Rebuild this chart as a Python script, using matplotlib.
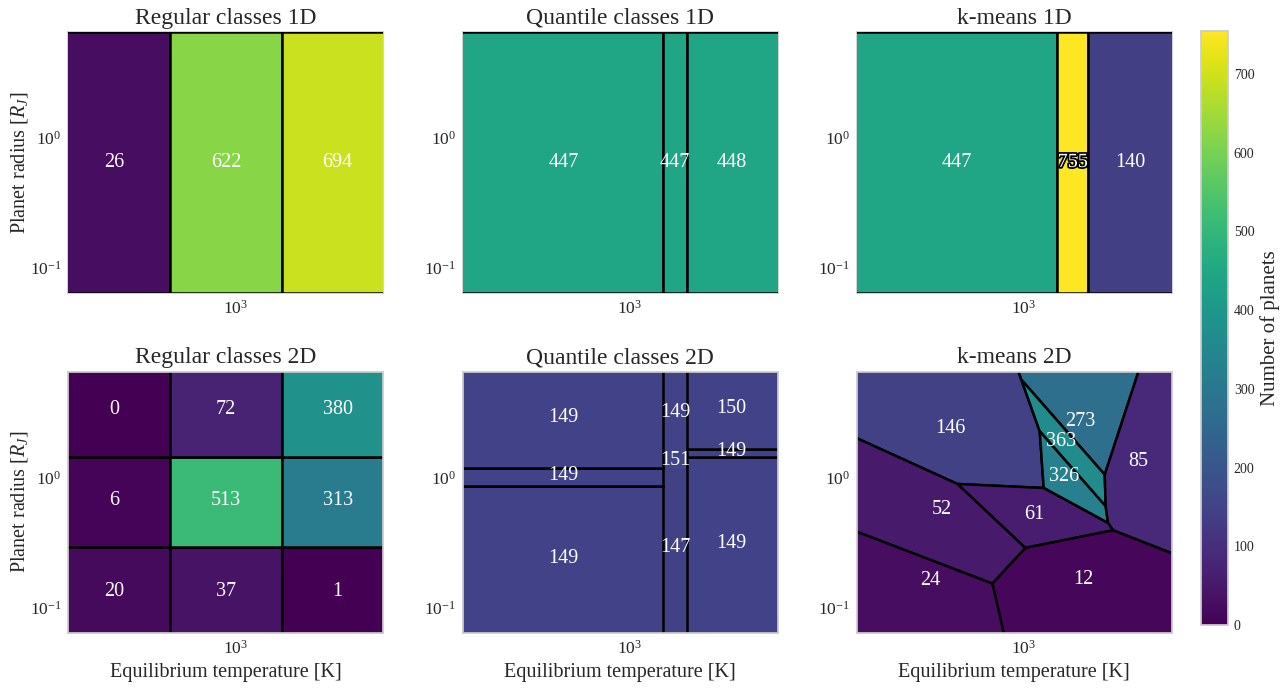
import numpy as np
import matplotlib
import matplotlib.pyplot as plt
import matplotlib.patheffects as pe
from matplotlib.colors import Normalize
from matplotlib.patches import Rectangle, Polygon

plt.rcParams['font.family'] = ['Liberation Serif', 'DejaVu Serif']
plt.rcParams['mathtext.fontset'] = 'custom'
plt.rcParams['mathtext.rm'] = 'Liberation Serif'
plt.rcParams['mathtext.it'] = 'Liberation Serif:italic'
plt.rcParams['text.color'] = '#262626'
plt.rcParams['axes.labelcolor'] = '#262626'

# Axis ranges and sample range
x_lim = (252, 3400)
y_lim = (0.064, 6.5)
t_min, t_max = 232, 3700      # equilibrium temperature range [K]
r_min, r_max = 0.0589, 7.01   # planet radius range [R_J]

# Regular classes
reg_t_edges = [t_min, 585, 1467, t_max]
reg_r_edges = [r_min, 0.2897, 1.426, r_max]
reg1d_counts = [26, 622, 694]
reg_label_t = [368, 926, 2330]
reg_label_r = [0.133, 0.663, 3.32]
# rows bottom -> top, columns cold -> hot
reg2d_counts = [[20, 37, 1],
                [6, 513, 313],
                [0, 72, 380]]

# Quantile classes
quant_t_edges = [t_min, 1321, 1604, t_max]
quant1d_counts = [447, 447, 448]
quant_label_t = [579, 1456, 2325]
# per temperature column, bottom -> top
quant2d_r_edges = [[r_min, 0.853, 1.173, r_max],
                   [r_min, 1.17, 1.58, r_max],
                   [r_min, 1.426, 1.654, r_max]]
quant2d_counts = [[149, 149, 149],
                  [147, 151, 149],
                  [149, 149, 150]]
quant2d_label_r = [[0.240, 1.031, 2.863],
                   [0.287, 1.352, 3.129],
                   [0.313, 1.585, 3.376]]
quant2d_drawn = [True, False, True]

# k-means classes
km1d_t_edges = [t_min, 1321, 1708, t_max]
km1d_counts = [447, 755, 140]
km1d_label_t = [576, 1501, 2409]

# k-means 2D cells (Voronoi vertices in Teq [K], R [R_J])
km2d_vertices = {
    'a0': (230, 7.76), 'a1': (932, 7.76), 'a2': (2654, 7.76), 'a3': (3724, 7.76),
    'r1': (3724, 0.242), 'a4': (3724, 0.0536), 'b1': (865, 0.0536),
    'a5': (230, 0.0536), 'l2': (230, 0.4135), 'l1': (230, 2.19),
    'p1': (982, 5.64), 'p2': (1143, 2.26), 'p3': (1181, 0.829),
    'p4': (1955, 1.049), 'p5': (1971, 0.599), 'p6': (2009, 0.446),
    'p7': (2094, 0.392), 'q1': (579, 0.890), 'q2': (1014, 0.287),
    'q3': (773, 0.153),
}
km2d_counts = [146, 273, 363, 326, 85, 61, 12, 24, 52]
km2d_cells = [
    ['a0', 'a1', 'p1', 'p2', 'p3', 'q1', 'l1'],
    ['a1', 'a2', 'p4', 'p1'],
    ['p1', 'p4', 'p5', 'p2'],
    ['p2', 'p5', 'p6', 'p3'],
    ['a2', 'a3', 'r1', 'p7', 'p6', 'p5', 'p4'],
    ['q1', 'p3', 'p6', 'p7', 'q2'],
    ['q2', 'p7', 'r1', 'a4', 'b1', 'q3'],
    ['l2', 'q3', 'b1', 'a5'],
    ['l1', 'q1', 'q2', 'q3', 'l2'],
]
km2d_label_t = [548, 1599, 1367, 1393, 2574, 1090, 1634, 461, 507]
km2d_label_r = [2.357, 2.668, 1.892, 1.018, 1.328, 0.517, 0.1636, 0.1616, 0.5647]

norm = Normalize(vmin=0, vmax=755)
cmap = matplotlib.colormaps['viridis']
line_w = 1.8


def put_label(ax, x, y, n):
    txt = ax.text(x, y, str(n), ha='center', va='center', color='white',
                  fontsize=14.5, zorder=5)
    # outline only on the brightest cells
    if norm(n) > 0.95:
        txt.set_path_effects([pe.withStroke(linewidth=2.5, foreground='black')])


def style(ax, xlabel=False, ylabel=False):
    ax.set_xscale('log')
    ax.set_yscale('log')
    ax.set_xlim(x_lim)
    ax.set_ylim(y_lim)
    ax.tick_params(which='both', length=0, labelsize=12.5, colors='#262626', pad=5)
    for s in ax.spines.values():
        s.set_color('#cccccc')
        s.set_linewidth(1.25)
    if xlabel:
        ax.set_xlabel('Equilibrium temperature [K]', fontsize=14.5)
    if ylabel:
        ax.set_ylabel('Planet radius [$R_J$]', fontsize=14.5, labelpad=0)


def draw_1d(ax, edges, counts, label_t):
    y_mid = np.sqrt(y_lim[0] * y_lim[1])
    for i, n in enumerate(counts):
        ax.add_patch(Rectangle((edges[i], y_lim[0]), edges[i + 1] - edges[i],
                               y_lim[1] - y_lim[0], facecolor=cmap(norm(n)),
                               edgecolor='black', linewidth=line_w, zorder=3))
        put_label(ax, label_t[i], y_mid, n)


fig = plt.figure(figsize=(12.8, 6.88), dpi=100)
lefts = [0.0534, 0.3615, 0.6693]
bottoms = [0.5741, 0.0804]
w, h = 0.2461, 0.3794
axes = [[fig.add_axes([l, b, w, h]) for l in lefts] for b in bottoms]

# Row 1: 1D classes
ax = axes[0][0]
draw_1d(ax, reg_t_edges, reg1d_counts, reg_label_t)
style(ax, ylabel=True)
ax.set_title('Regular classes 1D', fontsize=17)

ax = axes[0][1]
draw_1d(ax, quant_t_edges, quant1d_counts, quant_label_t)
style(ax)
ax.set_title('Quantile classes 1D', fontsize=17)

ax = axes[0][2]
draw_1d(ax, km1d_t_edges, km1d_counts, km1d_label_t)
style(ax)
ax.set_title('k-means 1D', fontsize=17)

# Row 2: 2D classes
ax = axes[1][0]
for j in range(3):
    for i in range(3):
        n = reg2d_counts[j][i]
        ax.add_patch(Rectangle((reg_t_edges[i], reg_r_edges[j]),
                               reg_t_edges[i + 1] - reg_t_edges[i],
                               reg_r_edges[j + 1] - reg_r_edges[j],
                               facecolor=cmap(norm(n)), edgecolor='black',
                               linewidth=line_w, zorder=1))
        put_label(ax, reg_label_t[i], reg_label_r[j], n)
style(ax, xlabel=True, ylabel=True)
ax.set_title('Regular classes 2D', fontsize=17)

ax = axes[1][1]
for i in range(3):
    r_edges = quant2d_r_edges[i]
    for j in range(3):
        n = quant2d_counts[i][j]
        ax.add_patch(Rectangle((quant_t_edges[i], r_edges[j]),
                               quant_t_edges[i + 1] - quant_t_edges[i],
                               r_edges[j + 1] - r_edges[j],
                               facecolor=cmap(norm(n)),
                               edgecolor='black' if quant2d_drawn[i] else 'none',
                               linewidth=line_w, zorder=2 if quant2d_drawn[i] else 1))
        put_label(ax, quant_label_t[i], quant2d_label_r[i][j], n)
style(ax, xlabel=True)
ax.set_title('Quantile classes 2D', fontsize=17)

ax = axes[1][2]
for cell, n in zip(km2d_cells, km2d_counts):
    pts = [km2d_vertices[k] for k in cell]
    ax.add_patch(Polygon(pts, closed=True, facecolor=cmap(norm(n)),
                         edgecolor='black', linewidth=line_w, zorder=1))
for x, y, n in zip(km2d_label_t, km2d_label_r, km2d_counts):
    put_label(ax, x, y, n)
style(ax, xlabel=True)
ax.set_title('k-means 2D', fontsize=17)

# Colorbar
cax = fig.add_axes([0.9383, 0.0916, 0.0213, 0.8638])
sm = matplotlib.cm.ScalarMappable(norm=norm, cmap=cmap)
cb = fig.colorbar(sm, cax=cax)
cb.outline.set_edgecolor('#cccccc')
cb.outline.set_linewidth(1.25)
cb.ax.tick_params(length=0, labelsize=10, colors='#262626', pad=4)
cb.set_label('Number of planets', fontsize=15)

fig.savefig('out.png', dpi=100, facecolor='white')
